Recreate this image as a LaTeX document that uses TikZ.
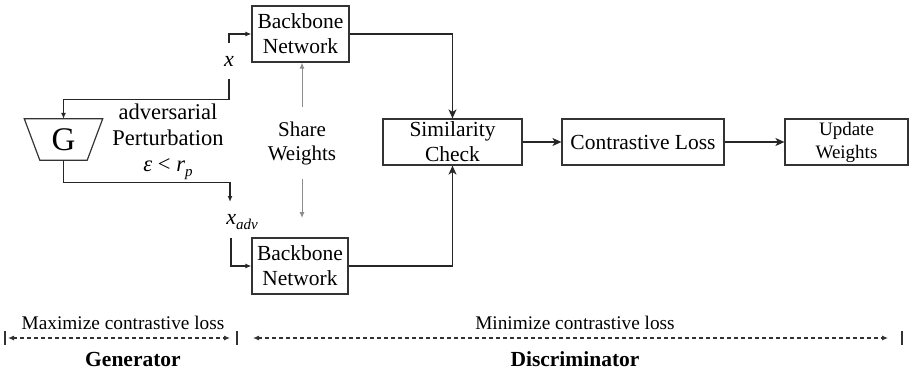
\documentclass[tikz,border=0pt]{standalone}
\usepackage{fontspec}
\IfFontExistsTF{LiberationSerif-Regular.ttf}
	{\setmainfont{LiberationSerif-Regular.ttf}[BoldFont=LiberationSerif-Bold.ttf,
		ItalicFont=LiberationSerif-Italic.ttf, BoldItalicFont=LiberationSerif-BoldItalic.ttf]}
	{\setmainfont{Liberation Serif}}
\usepackage{tikz}
\usetikzlibrary{arrows.meta,calc}
\tikzstyle{box} = [draw=black!80, line width=1.2pt, inner sep=0pt, align=center,
	font=\fontsize{21.5}{25}\selectfont]
\tikzstyle{flow} = [draw=black!85, line width=1.3pt, -{Stealth[length=9pt,width=8pt,inset=2.5pt]}]
\tikzstyle{feed} = [draw=black!85, line width=1.3pt, -{Latex[length=6pt,width=5pt]}]
\tikzstyle{share} = [draw=black!45, line width=1pt, -{Latex[length=6pt,width=5pt]}]
\tikzstyle{spanline} = [draw=black!80, line width=1.1pt, dash pattern=on 4pt off 3pt,
	{Latex[length=6pt,width=5pt]}-{Latex[length=6pt,width=5pt]}]
\newcommand{\lowsub}[1]{\raisebox{-4.5pt}{\fontsize{15}{15}\selectfont\itshape #1}}

\begin{document}
\begin{tikzpicture}[x=1pt,y=-1pt]
	\useasboundingbox (0,0) rectangle (909,374);

	% backbone networks
	\node[box, minimum width=97pt, minimum height=56pt] (bbtop) at (300.5,34) {Backbone\\Network};
	\node[box, minimum width=96pt, minimum height=56pt] (bbbot) at (300,266) {Backbone\\Network};

	% discriminator chain
	\node[box, minimum width=139pt, minimum height=46pt] (sim) at (452.5,142) {Similarity\\Check};
	\node[box, minimum width=162pt, minimum height=46pt] (loss) at (643,142) {Contrastive Loss};
	\node[box, minimum width=123pt, minimum height=46pt, font=\fontsize{19}{23}\selectfont] (upd) at (846.5,142) {Update\\Weights};

	% generator
	\node[minimum width=47pt, minimum height=41pt, inner sep=0pt, font=\fontsize{33}{33}\selectfont] (G) at (63.5,139.5) {G};
	\draw[draw=black!80, line width=1.2pt] ([xshift=-15.5pt]G.north west) -- ([xshift=15.5pt]G.north east)
		-- (G.south east) -- (G.south west) -- cycle;
	\node[font=\fontsize{22.5}{26}\selectfont, align=center] (pert) at (168,142)
		{adversarial\\Perturbation\\{\itshape ε} < {\itshape r}\lowsub{p}};

	% shared weights
	\node[font=\fontsize{21}{24}\selectfont, align=center, inner ysep=14pt] (wts) at (302,143) {Share\\Weights};
	\coordinate (wtip) at (302,218);
	\draw[share] (wts.north) -- (wts.north |- bbtop.south);
	\draw[share] (wts.south) -- (wtip);

	% inputs
	\node[font=\fontsize{22}{22}\selectfont\itshape, inner ysep=13pt] (xin) at (229,61) {x};
	\draw[feed] (xin.north) |- (bbtop.west);
	\draw[feed] (xin.south) -- ++(0,20) -| (G.north);

	\node[font=\fontsize{22}{22}\selectfont\itshape] (xadv) at (242,222) {x\lowsub{adv}};
	\coordinate (advin) at (230,202);
	\coordinate (advout) at (231,238);
	\draw[feed] (G.south) -- ++(0,22) -| (advin);
	\draw[feed] (advout) |- (bbbot.west);

	% to the loss
	\draw[flow] (bbtop.east) -| (sim.north);
	\draw[flow] (bbbot.east) -| (sim.south);
	\draw[flow] (sim) -- (loss);
	\draw[flow] (loss) -- (upd);

	% ranges
	\coordinate (b0) at (5,338);
	\coordinate (b1) at (237,338);
	\coordinate (b2) at (902,338);
	\foreach \b in {b0,b1,b2}
		\draw[line width=1.1pt, draw=black!80] ($(\b)+(0,-7)$) -- ($(\b)+(0,7)$);
	\draw[spanline] ($(b0)+(3,0)$) -- ($(b1)+(-7,0)$);
	\draw[spanline] ($(b1)+(16,0)$) -- ($(b2)+(-14,0)$);

	\node[font=\fontsize{19.3}{22}\selectfont] (maxl) at (123,323) {Maximize contrastive loss};
	\node[font=\fontsize{19.3}{22}\selectfont] (minl) at (575,323) {Minimize contrastive loss};
	\node[font=\bfseries\fontsize{21.5}{24}\selectfont] (gen) at (133,359) {Generator};
	\node[font=\bfseries\fontsize{21.5}{24}\selectfont] (disc) at (575,359) {Discriminator};
\end{tikzpicture}
\end{document}
